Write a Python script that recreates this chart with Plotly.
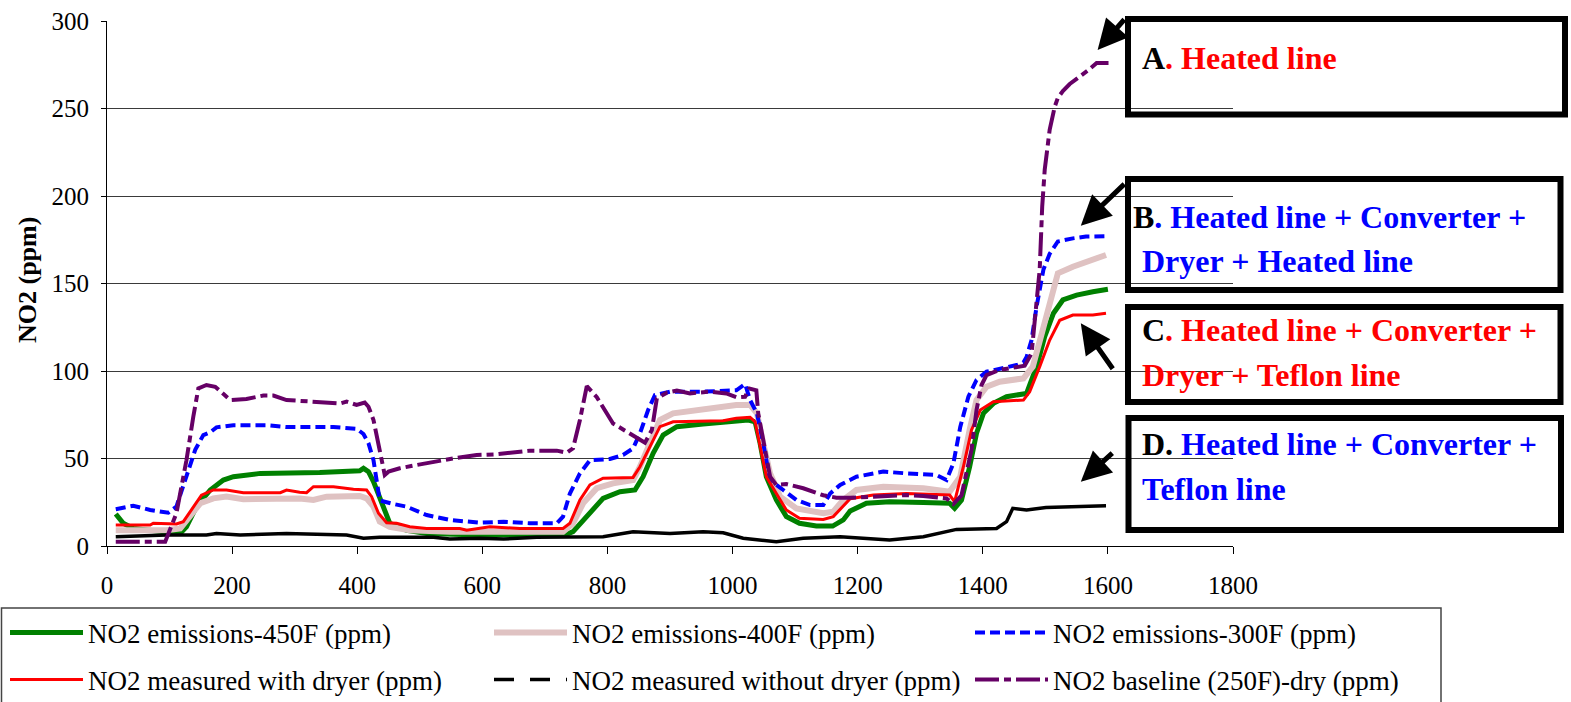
import plotly.graph_objects as go

# ---------------- data ----------------
x_ticks = [0, 200, 400, 600, 800, 1000, 1200, 1400, 1600, 1800]
y_ticks = [0, 50, 100, 150, 200, 250, 300]

names = ["NO2 emissions-450F (ppm)", "NO2 emissions-400F (ppm)", "NO2 emissions-300F (ppm)",
         "NO2 measured with dryer (ppm)", "NO2 measured without dryer (ppm)", "NO2 baseline (250F)-dry (ppm)"]

x_450 = [14, 26, 42, 85, 117, 127, 143, 165, 186, 202, 245, 340, 404, 410, 418, 426, 439, 452, 479, 511, 596,
         735, 745, 772, 793, 820, 844, 857, 873, 889, 911, 953, 985, 1006, 1025, 1036, 1044, 1054, 1070, 1086,
         1107, 1134, 1160, 1177, 1188, 1214, 1251, 1305, 1347, 1355, 1366, 1379, 1390, 1401, 1417, 1438, 1462,
         1470, 1480, 1486, 1499, 1513, 1528, 1550, 1576, 1600]
y_450 = [18.3, 13, 10, 8.2, 7.2, 11, 22.5, 32, 37.7, 39.6, 41.5, 42, 43, 44.4, 42.5, 36.8, 24.4, 13, 9, 7.2, 6.3,
         6.7, 8.2, 18.7, 27.2, 31, 32, 39.6, 53, 63.4, 68.2, 69.7, 70.5, 71.6, 72, 71, 58.7, 39.6, 26.3, 16.8,
         13, 11.4, 11.4, 14.9, 20, 24.4, 25.3, 24.8, 24.4, 21.5, 26.3, 45.3, 64.4, 75.8, 81.5, 85.3, 87.2,
         87.2, 96.8, 102.5, 119.6, 133, 140.6, 143.4, 145.3, 146.7]

x_400 = [14, 95, 117, 133, 149, 170, 191, 218, 266, 308, 330, 351, 404, 415, 426, 436, 452, 484, 548, 729, 745,
         761, 783, 809, 841, 852, 868, 884, 905, 953, 1006, 1028, 1039, 1049, 1060, 1076, 1102, 1145, 1161, 1177,
         1198, 1241, 1305, 1347, 1364, 1379, 1390, 1406, 1427, 1465, 1475, 1480, 1497, 1510, 1520, 1544, 1571, 1597]
y_400 = [9, 9, 10, 16.8, 24.4, 27.2, 28.2, 26.7, 26.7, 27.2, 26.3, 28.2, 28.6, 27.2, 22.5, 13.9, 11, 9, 8.2, 8.2, 13,
         24.4, 33, 35.8, 37.7, 45.3, 58.7, 72, 75.8, 78, 80.6, 80.6, 75.8, 58.7, 41.5, 28.2, 21.5, 18.7, 19.6, 26.3,
         32, 33.9, 33, 31, 39.6, 66.3, 83.4, 91, 93.9, 95.8, 100.6, 102.5, 125, 144.4, 155.8, 159.6, 163.4, 166.3]

x_300 = [14, 42, 69, 98, 111, 127, 141, 154, 165, 175, 202, 255, 287, 362, 399, 410, 418, 426, 436, 458, 479, 511,
         548, 596, 634, 676, 719, 729, 740, 756, 772, 804, 825, 841, 852, 865, 876, 900, 953, 1006, 1020, 1028,
         1039, 1049, 1060, 1081, 1102, 1124, 1145, 1156, 1172, 1198, 1241, 1278, 1326, 1342, 1353, 1364, 1377,
         1390, 1406, 1454, 1465, 1470, 1478, 1486, 1497, 1507, 1520, 1544, 1565, 1595]
y_300 = [21, 23, 20.6, 19, 22.5, 39.6, 55, 63.4, 65, 67.8, 69, 69, 68, 68, 67, 64, 58.7, 49, 26, 24, 22.5, 17.7,
         14.9, 13.3, 13.9, 13, 13, 16.8, 30, 41.5, 49, 49.7, 52, 55.8, 64.4, 77.7, 86.3, 88.2, 88.2, 89, 92.6, 83.4,
         75.8, 58.7, 37.7, 32, 26.3, 23.4, 23.4, 30, 34.9, 39.6, 42.5, 41.5, 40.6, 37.7, 47.2, 68, 85.3,
         94.9, 99.6, 103.4, 104.8, 108, 117.7, 136.8, 158, 167, 174, 175.8, 176.8, 177]

x_dryer = [14, 69, 74, 111, 122, 138, 151, 170, 191, 218, 277, 287, 308, 319, 330, 362, 394, 415, 423, 434, 447,
           463, 484, 511, 564, 575, 596, 612, 660, 729, 740, 756, 772, 793, 841, 852, 868, 884, 905, 953, 985,
           1006, 1028, 1036, 1044, 1054, 1070, 1086, 1107, 1145, 1161, 1177, 1188, 1225, 1278, 1347, 1355, 1369,
           1382, 1396, 1417, 1465, 1475, 1491, 1507, 1523, 1544, 1576, 1597]
y_dryer = [12, 12, 13, 12.6, 13.9, 22.5, 29, 32, 32, 30.5, 30.5, 32, 30.7, 30.5, 33.9, 33.9, 32.4, 32, 28.2, 18.7, 13.3,
           13, 11, 10, 10, 9, 10, 11, 10, 10, 13, 26.3, 34.9, 38.7, 39.2, 45.3, 56.8, 68.2, 71, 71.6, 71.6,
           73, 73.5, 71, 56.8, 39.6, 30, 20.6, 15.8, 15.2, 16.8, 22.5, 27, 29.1, 30, 29.1, 25.3, 45.3,
           66.3, 77.7, 82.5, 83.4, 88.2, 102.5, 117.7, 129, 132, 132, 133]

x_nodryer = [14, 95, 159, 175, 213, 245, 287, 319, 383, 410, 436, 522, 548, 596, 634, 687, 793, 841, 900, 953, 985,
             1017, 1070, 1113, 1172, 1251, 1305, 1358, 1422, 1438, 1448, 1470, 1501, 1597]
y_nodryer = [5.3, 6.3, 6.3, 7.2, 6.3, 6.9, 7.2, 6.9, 6.3, 4.4, 5, 5, 4, 4.4, 4, 5, 5.3, 8.2, 7.2, 8.2, 7.6,
             4.4, 2.5, 4.4, 5.3, 3.4, 5.3, 9.5, 10, 13.9, 21.5, 20.6, 22, 23]

x_base = [14, 93, 111, 127, 138, 146, 159, 173, 197, 223, 250, 266, 287, 319, 351, 373, 383, 399, 412, 418, 426, 436,
          444, 450, 468, 495, 522, 553, 591, 623, 676, 719, 735, 745, 756, 767, 783, 793, 809, 831, 847, 860, 871,
          879, 895, 911, 932, 964, 990, 1006, 1020, 1027, 1038, 1041, 1049, 1060, 1070, 1086, 1113, 1145, 1166,
          1188, 1225, 1278, 1305, 1342, 1353, 1366, 1382, 1390, 1398, 1406, 1427, 1454, 1467, 1478, 1491, 1495,
          1499, 1507, 1515, 1520, 1528, 1539, 1555, 1569, 1582, 1601]
y_base = [2.5, 2.5, 18.7, 49, 74, 90, 92, 91, 83.4, 84, 86, 86, 83.4, 82.7, 82, 81.5, 82.5, 80.6, 82, 79.6, 72, 55,
          40.6, 42.5, 44.4, 46.3, 48.2, 50, 52, 52.4, 54.5, 54.5, 53.3, 55.8, 72, 91.4, 85, 79.6, 70, 65.3, 61.5, 59, 66.3,
          84.4, 87.6, 88.8, 87.2, 88.2, 87.2, 85, 85.3, 90, 89, 75.8, 60.6, 39.6, 34.9, 35.4, 33, 29, 27.6,
          27.6, 28.2, 29.1, 28.6, 27.2, 24, 29, 55, 77.7, 92, 97.7, 100.6, 102, 103, 110, 158, 194,
          215, 238, 251, 256, 260, 264, 268, 272, 276, 276]

# ---------------- geometry helpers ----------------
W, H = 1571, 702
L, R, T, B = 107, 1233, 21, 546   # plot area in pixels


def px(xp):
    return (xp - L) / (R - L)


def py(yp):
    return (B - yp) / (B - T)


SERIF = "Liberation Serif"

fig = go.Figure()

fig.add_trace(go.Scatter(x=x_450, y=y_450, mode="lines", name=names[0], legend="legend",
                         line=dict(color="#008000", width=5)))
fig.add_trace(go.Scatter(x=x_400, y=y_400, mode="lines", name=names[1], legend="legend2",
                         line=dict(color="#DFC2C2", width=6)))
fig.add_trace(go.Scatter(x=x_300, y=y_300, mode="lines", name=names[2], legend="legend3",
                         line=dict(color="#0000FF", width=4, dash="10px,5px")))
fig.add_trace(go.Scatter(x=x_dryer, y=y_dryer, mode="lines", name=names[3], legend="legend4",
                         line=dict(color="#FF0000", width=3)))
fig.add_trace(go.Scatter(x=x_nodryer, y=y_nodryer, mode="lines", name=names[4], showlegend=False,
                         legendgroup="nod", line=dict(color="#000000", width=3.5)))
fig.add_trace(go.Scatter(x=[None], y=[None], mode="lines", name=names[4], legend="legend5",
                         legendgroup="nod", line=dict(color="#000000", width=3.5, dash="20px,16px")))
fig.add_trace(go.Scatter(x=x_base, y=y_base, mode="lines", name=names[5], legend="legend6",
                         line=dict(color="#660066", width=4, dash="24px,5px,7px,5px")))

shapes = []
annotations = []

# annotation boxes
boxes = [(1128, 19, 1565, 114.5), (1128, 179, 1560.5, 290), (1128, 307, 1560.5, 402), (1128.5, 418, 1561, 530)]
for x0, y0, x1, y1 in boxes:
    shapes.append(dict(type="rect", xref="paper", yref="paper", x0=px(x0), x1=px(x1), y0=py(y0), y1=py(y1),
                       line=dict(color="black", width=6), fillcolor="rgba(0,0,0,0)", layer="above"))

# legend frame
shapes.append(dict(type="rect", xref="paper", yref="paper", x0=px(1.5), x1=px(1441), y0=py(608), y1=py(720),
                   line=dict(color="#444444", width=1.5), fillcolor="rgba(0,0,0,0)"))

box_font = dict(family=SERIF, size=32, color="black")
texts = [
    (1139.5, 58, "<b>A<span style='color:#FF0000'>. Heated line</span></b>"),
    (1131, 217, "<b>B<span style='color:#0000FF'>. Heated line + Converter +</span></b>"),
    (1139.5, 261, "<b><span style='color:#0000FF'>Dryer + Heated line</span></b>"),
    (1139.5, 330, "<b>C<span style='color:#FF0000'>. Heated line + Converter +</span></b>"),
    (1139.5, 375, "<b><span style='color:#FF0000'>Dryer + Teflon line</span></b>"),
    (1139.5, 444, "<b>D. <span style='color:#0000FF'>Heated line + Converter +</span></b>"),
    (1139.5, 489, "<b><span style='color:#0000FF'>Teflon line</span></b>"),
]
for xp, yp, t in texts:
    annotations.append(dict(xref="paper", yref="paper", x=px(xp), y=py(yp), text=t, showarrow=False,
                            xanchor="left", yanchor="middle", font=box_font))

# arrows (head position, tail offset in pixels)
arrows = [((1097.6, 50), (28, -32)), ((1080.8, 225.7), (45, -43)),
          ((1080.8, 323.3), (33, 47)), ((1080.8, 481.7), (33, -30))]
for (hx, hy), (ax, ay) in arrows:
    annotations.append(dict(xref="paper", yref="paper", x=px(hx), y=py(hy), ax=ax, ay=ay, text="",
                            showarrow=True, arrowhead=2, arrowsize=1.2, arrowwidth=5, arrowcolor="black",
                            standoff=0))

# y axis title
annotations.append(dict(xref="paper", yref="paper", x=px(27), y=py(280), text="<b>NO2 (ppm)</b>",
                        textangle=-90, showarrow=False, xanchor="center", yanchor="middle",
                        font=dict(family=SERIF, size=26, color="black")))

leg_common = dict(orientation="h", xref="paper", yref="paper", xanchor="left", yanchor="middle",
                  itemwidth=73, font=dict(family=SERIF, size=27, color="black"),
                  bgcolor="rgba(0,0,0,0)", borderwidth=0)
col_x = [5, 489, 970]
row_y = [633, 680]
legends = {}
for i, key in enumerate(["legend", "legend2", "legend3", "legend4", "legend5", "legend6"]):
    legends[key] = dict(x=px(col_x[i % 3]), y=py(row_y[i // 3]), **leg_common)

fig.update_layout(
    width=W, height=H, autosize=False,
    margin=dict(l=L, r=W - R, t=T, b=H - B, pad=0, autoexpand=False),
    paper_bgcolor="white", plot_bgcolor="white",
    font=dict(family=SERIF, color="black"),
    xaxis=dict(range=[0, 1800], tickvals=x_ticks, ticktext=[str(v) for v in x_ticks], showgrid=False,
               zeroline=False, showline=True, linecolor="black", linewidth=1, ticks="outside", ticklen=7,
               tickcolor="black", tickfont=dict(family=SERIF, size=25, color="black"), ticklabelstandoff=10),
    yaxis=dict(range=[0, 300], tickvals=y_ticks, ticktext=[str(v) for v in y_ticks], showgrid=True,
               gridcolor="#3a3a3a", gridwidth=1, zeroline=False, showline=True, linecolor="black", linewidth=1,
               ticks="outside", ticklen=5, tickcolor="black",
               tickfont=dict(family=SERIF, size=25, color="black"), ticklabelstandoff=7),
    shapes=shapes,
    annotations=annotations,
    **legends,
)

fig.write_html("out.html", config={"displayModeBar": False},
               post_script="document.body.style.margin='0px';")
